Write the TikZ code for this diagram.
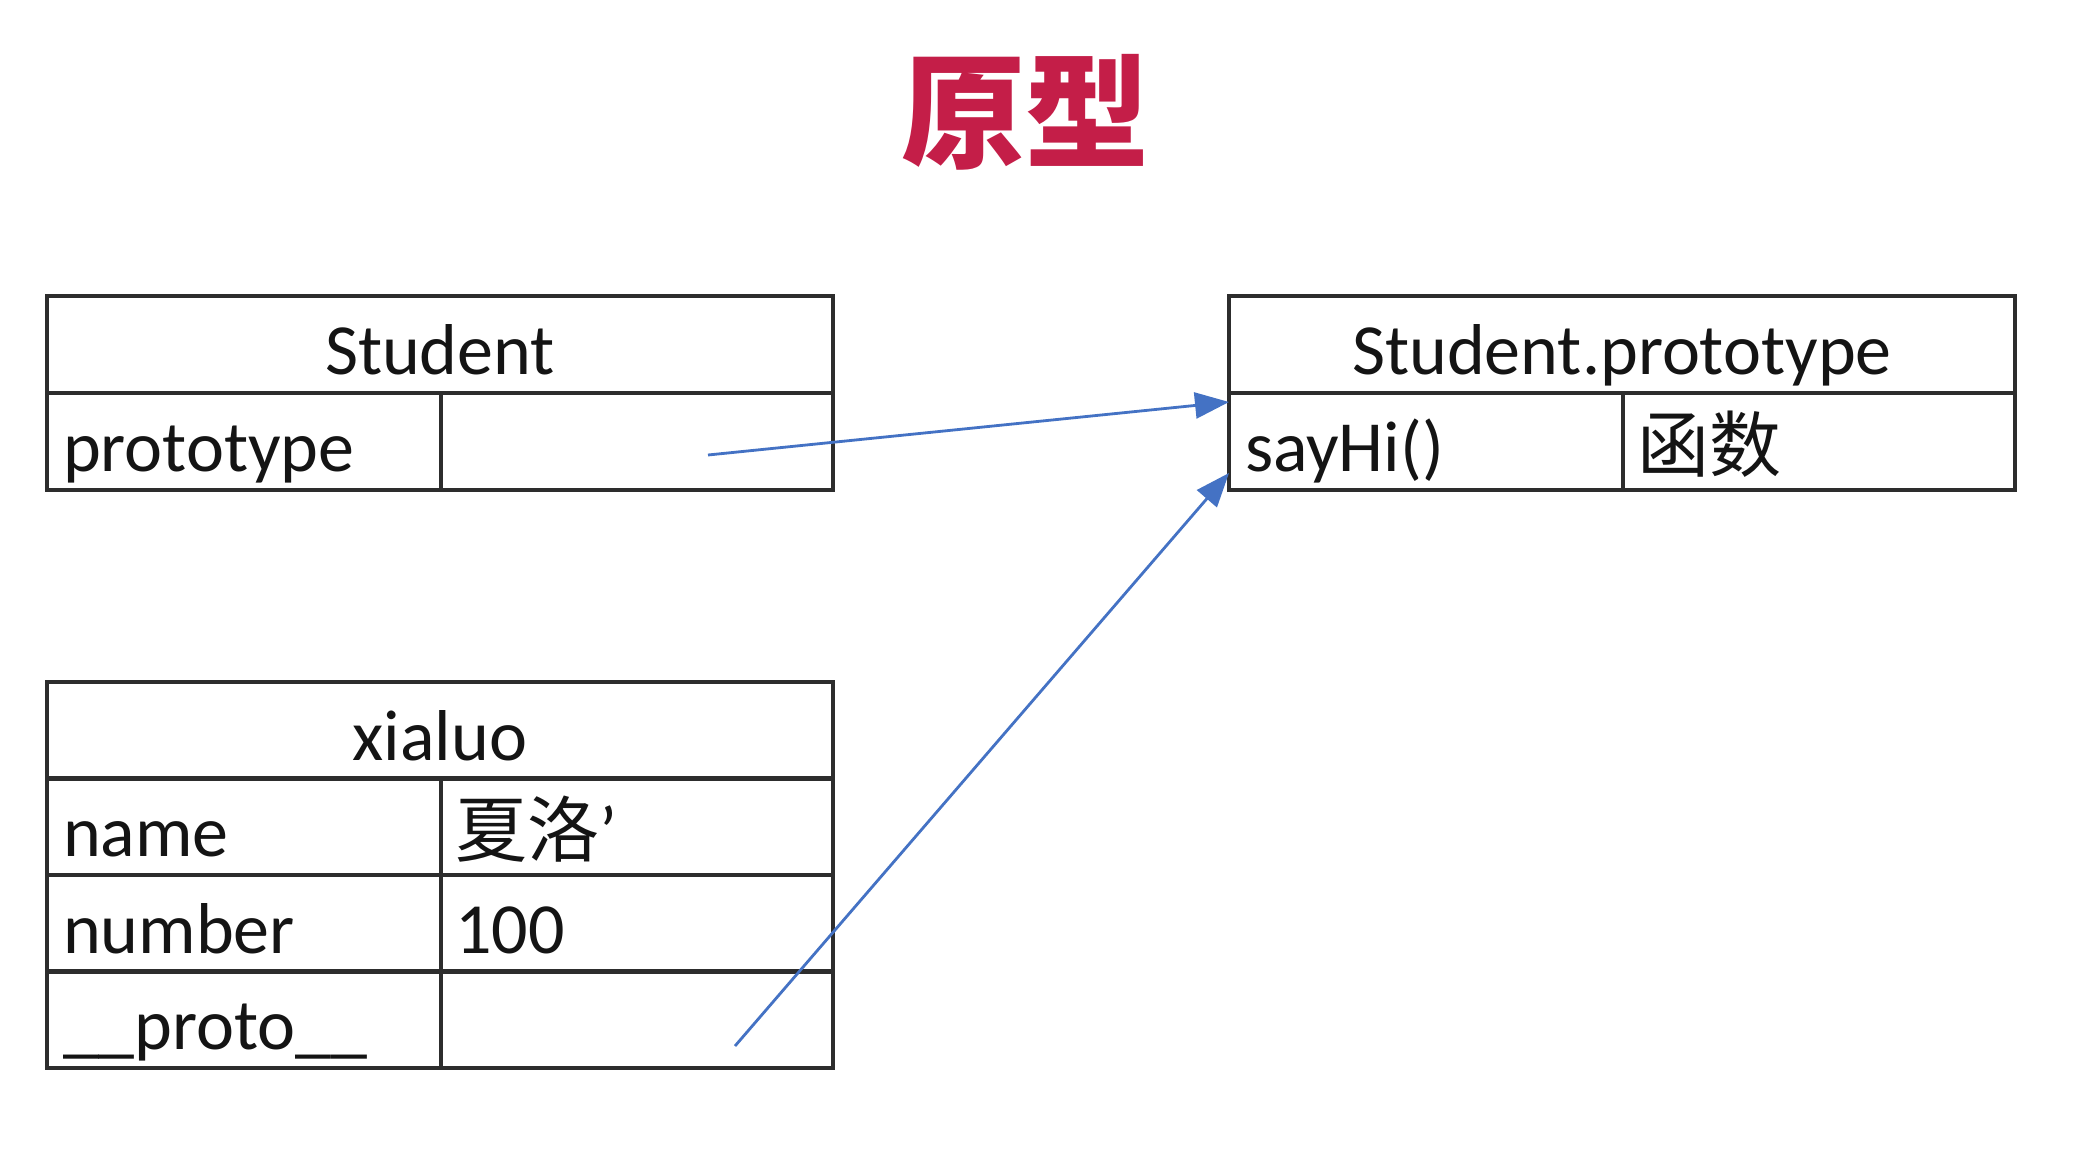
\documentclass[tikz,border=0pt]{standalone}
\usepackage{fontspec}
\setmainfont{Carlito}
\newfontfamily\cjk{Noto Sans CJK SC}
\usetikzlibrary{arrows.meta}
\definecolor{titlered}{RGB}{196,30,72}
\definecolor{arrblue}{RGB}{68,114,196}
\definecolor{border}{RGB}{45,45,45}
\tikzset{
  tbl/.style={draw=border, line width=1.6pt, outer sep=0pt, inner ysep=0pt, inner xsep=8pt,
    minimum height=48.5pt, text height=30pt, text depth=0pt,
    font=\fontsize{36}{40}\selectfont, text=black!92},
  hdr/.style={tbl, text width=377pt, align=center, anchor=north west},
  keycell/.style={tbl, text width=181pt, align=left, anchor=north west},
  valcell/.style={tbl, inner xsep=7pt, text width=182pt, align=left, anchor=north west},
  ptr/.style={arrblue, line width=1.4pt, -{Triangle[length=17pt,width=13pt]}},
}
\begin{document}
\begin{tikzpicture}[x=0.5pt,y=-0.5pt]
\useasboundingbox (0,0) rectangle (2080,1166);
\fill[white] (0,0) rectangle (2080,1166);
% title
\node[font=\cjk\bfseries\fontsize{62}{62}\selectfont, text=titlered] (title) at (1025,112) {原型};
% Student
\node[hdr] (sh) at (47,296) {Student};
\node[keycell] (sk) at (47,393) {prototype};
\node[valcell] (sv) at (441,393) {};
% Student.prototype
\node[hdr] (ph) at (1229,296) {Student.prototype};
\node[keycell] (pk) at (1229,393) {sayHi()};
\node[valcell] (pv) at (1623,393) {\cjk 函数};
% xialuo
\node[hdr] (xh) at (47,682) {xialuo};
\node[keycell] (xk1) at (47,778) {name};
\node[valcell] (xv1) at (441,778) {\cjk 夏洛\rmfamily '};
\node[keycell] (xk2) at (47,875) {number};
\node[valcell] (xv2) at (441,875) {100};
\node[keycell] (xk3) at (47,971) {\_\_proto\_\_};
\node[valcell] (xv3) at (441,971) {};
% arrows
\coordinate (a1) at (708,455);
\coordinate (t1) at (pk.north west |- 0,402);
\coordinate (a2) at (735,1046);
\coordinate (t2) at (pk.north west |- 0,473);
\draw[ptr] (a1) -- (t1);
\draw[ptr] (a2) -- (t2);
\end{tikzpicture}
\end{document}
